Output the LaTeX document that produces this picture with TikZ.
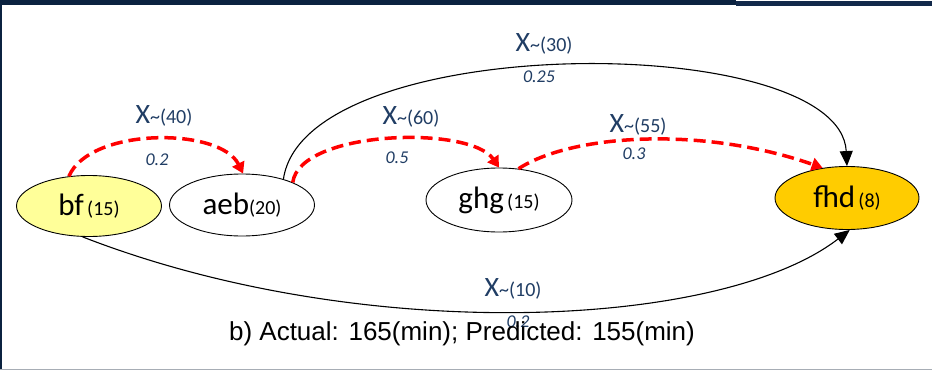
\documentclass[tikz,border=0pt]{standalone}
\usepackage{fontspec}
\setmainfont{Carlito}
\newfontfamily\capfont{Liberation Sans}
\usetikzlibrary{arrows.meta,shapes.geometric}
\definecolor{navy}{HTML}{0B2240}
\definecolor{navyb}{HTML}{12294A}
\definecolor{lblue}{HTML}{203D64}
\definecolor{byellow}{HTML}{FFFF99}
\definecolor{fgold}{HTML}{FFCC00}
\definecolor{edgegray}{HTML}{A7ADB5}
\newcommand\nodetxt[2]{{\fontsize{31}{31}\selectfont #1}{\fontsize{20}{20}\selectfont #2}}
\newcommand\xlab[1]{{\fontsize{28}{28}\selectfont X}{\fontsize{20}{20}\selectfont\textasciitilde(#1)}}
\newcommand\plab[1]{{\fontsize{18}{18}\selectfont\itshape #1}}
\begin{document}
\begin{tikzpicture}[x=1pt,y=-1pt,
  statebox/.style={ellipse, draw=black, line width=0.9pt, inner sep=0pt, minimum width=145pt, minimum height=62pt},
  reddash/.style={draw=red, line width=3.5pt, dash pattern=on 12pt off 6pt, -{Triangle[length=11pt,width=13pt]}},
  blackarc/.style={draw=black, line width=1.1pt, -{Triangle[length=15pt,width=13pt]}},
  lbl/.style={text=lblue, inner sep=0pt}]
\useasboundingbox (0,0) rectangle (932,370);
% frame
\fill[navy] (0,0) rectangle (736,5);
\fill[navyb] (736,1.3) rectangle (932,5.5);
\fill[navy] (0,0) rectangle (2,370);
\fill[edgegray] (0,368.5) rectangle (932,370);
% nodes
\node[statebox, fill=byellow, minimum height=61pt] (bf) at (89,206) {\nodetxt{bf}{\,(15)}};
\node[statebox, fill=white] (aeb) at (242,205) {\nodetxt{aeb}{(20)}};
\node[statebox, fill=white, minimum width=146pt, minimum height=64pt] (ghg) at (499,200) {\nodetxt{ghg}{\,(15)}};
\node[statebox, fill=fgold, minimum width=144pt, minimum height=63pt] (fhd) at (847,198) {\nodetxt{fhd}{\,(8)}};
% edges
\draw[blackarc] (aeb.32) .. controls (305,30) and (840,30) .. (fhd.90);
\draw[blackarc] (bf.258) .. controls (360,345) and (720,330) .. (fhd.275);
\draw[reddash] (bf.124) .. controls (90,127) and (220,127) .. (aeb.88);
\draw[reddash] (aeb.24) .. controls (300,130) and (470,125) .. (ghg.90);
\draw[reddash] (ghg.58) .. controls (570,135) and (700,125) .. (fhd.129);
% labels
\node[lbl] (l1) at (164,116) {\xlab{40}};
\node[lbl] (p1) at (157,160) {\plab{0.2}};
\node[lbl] (l2) at (411,117) {\xlab{60}};
\node[lbl] (p2) at (397,158) {\plab{0.5}};
\node[lbl] (l3) at (544,44) {\xlab{30}};
\node[lbl] (p3) at (539,77) {\plab{0.25}};
\node[lbl] (l4) at (638,125) {\xlab{55}};
\node[lbl] (p4) at (634,154) {\plab{0.3}};
\node[lbl] (l5) at (513,289) {\xlab{10}};
\node[lbl] (p5) at (518,322) {\plab{0.2}};
\node[inner sep=0pt] (cap) at (462,334) {\capfont\fontsize{26}{26}\selectfont b) Actual: 165(min); Predicted: 155(min)};
\end{tikzpicture}
\end{document}
